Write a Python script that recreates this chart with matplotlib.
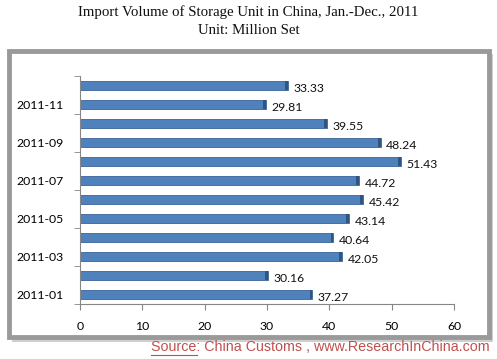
import matplotlib
matplotlib.use("Agg")
import matplotlib.pyplot as plt
from matplotlib.patches import Rectangle

months = ["2011-01", "2011-02", "2011-03", "2011-04", "2011-05", "2011-06",
          "2011-07", "2011-08", "2011-09", "2011-10", "2011-11", "2011-12"]
values = [37.27, 30.16, 42.05, 40.64, 43.14, 45.42, 44.72, 51.43, 48.24, 39.55, 29.81, 33.33]
x_ticks = [0, 10, 20, 30, 40, 50, 60]

title = "Import Volume of Storage Unit in China, Jan.-Dec., 2011"
subtitle = "Unit: Million Set"

W, H = 497, 359
fig = plt.figure(figsize=(W / 100, H / 100), dpi=100)

def fx(px):
    return px / W

def fy(py):
    return 1 - py / H

# frame shadow + frame
fig.patches.append(Rectangle((fx(12), fy(342)), fx(481), (342 - 54) / H, transform=fig.transFigure,
                             facecolor="#cfcfcf", edgecolor="none", zorder=0))
fig.patches.append(Rectangle((fx(9), fy(337)), fx(480), (337 - 51) / H, transform=fig.transFigure,
                             facecolor="white", edgecolor="#9a9a9a", linewidth=3.5, zorder=1))

fig.text(0.5, fy(12), title, ha="center", va="center", fontsize=10.7,
         family="Liberation Serif", color="#111111")
fig.text(0.5, fy(30), subtitle, ha="center", va="center", fontsize=10.7,
         family="Liberation Serif", color="#111111")

ax = fig.add_axes([fx(80), fy(304), fx(454 - 80), (304 - 76) / H], zorder=2)
ax.patch.set_alpha(0)
ypos = list(range(len(months)))
ax.barh(ypos, values, height=0.52, color="#4f81bd", edgecolor="#3a6496", linewidth=0.6)
for y, v in zip(ypos, values):
    ax.barh(y, 0.45, left=v - 0.45, height=0.52, color="#2f5683", edgecolor="none")
    ax.text(v + 0.9, y - 0.15, f"{v:.2f}", va="center", ha="left", fontsize=8.8,
            family="Lato", color="#111111")

ax.set_xlim(0, 60)
ax.set_ylim(-0.5, 11.5)
ax.set_xticks(x_ticks)
ax.set_xticklabels([str(t) for t in x_ticks], fontsize=8.8, family="Lato")
ax.set_yticks(ypos[::2])
ax.set_yticklabels(months[::2], fontsize=8.8, family="Lato")
ax.set_yticks([i - 0.5 for i in range(0, 13, 2)], minor=True)
ax.tick_params(axis="y", which="major", length=0, pad=12)
ax.tick_params(axis="y", which="minor", length=4, color="#868686", direction="out")
ax.tick_params(axis="x", length=4, color="#868686", pad=8)
for s in ["top", "right"]:
    ax.spines[s].set_visible(False)
for s in ["left", "bottom"]:
    ax.spines[s].set_color("#868686")

src = fig.text(fx(490), fy(347), "Source: China Customs , www.ResearchInChina.com", ha="right",
               va="center", fontsize=10.3, family="Liberation Sans", color="#c0504d")
fig.canvas.draw()
r = fig.canvas.get_renderer()
bb = src.get_window_extent(r)
tmp = fig.text(0, 0, "Source", fontsize=10.3, family="Liberation Sans")
wsrc = tmp.get_window_extent(r).width
tmp.remove()
uy = bb.y0 - 1
fig.lines.append(plt.Line2D([bb.x0 / W, (bb.x0 + wsrc) / W], [uy / H, uy / H],
                            transform=fig.transFigure, color="#c0504d", linewidth=0.8))

fig.savefig("out.png", dpi=100)
